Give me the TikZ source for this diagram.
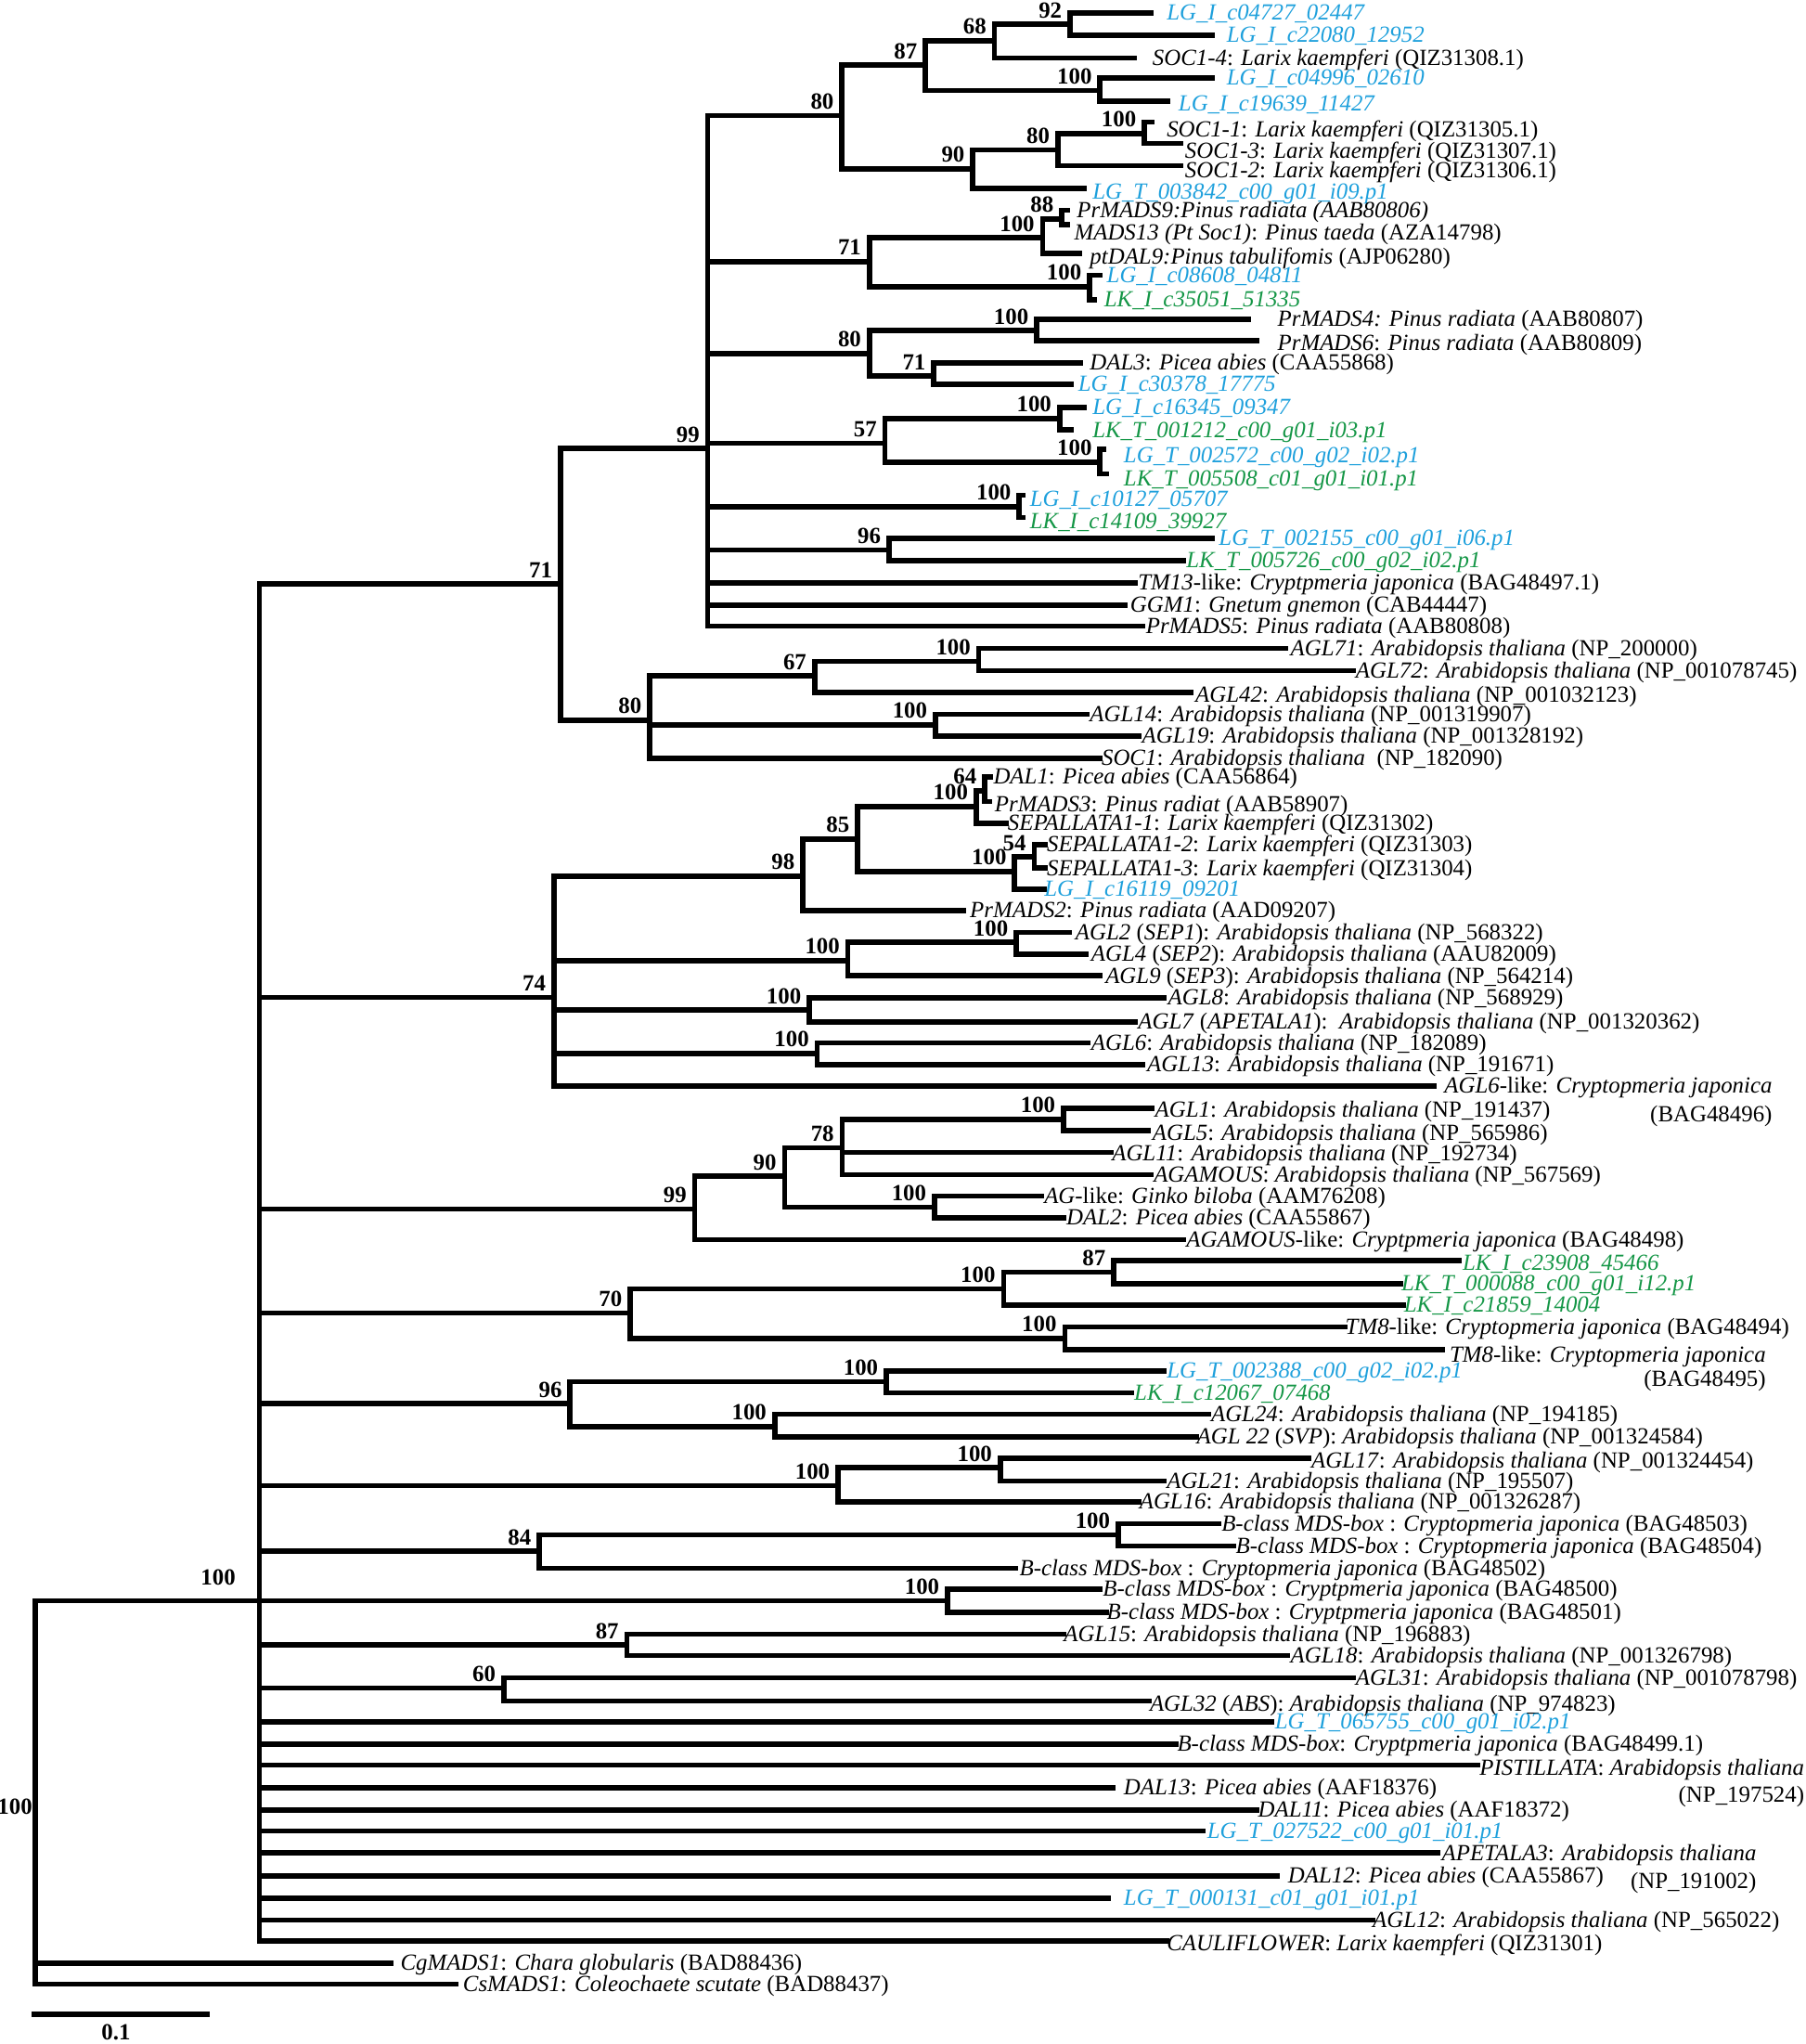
\documentclass[tikz,border=0pt]{standalone}
\usepackage{fontspec}
\setmainfont{Liberation Serif}
\usetikzlibrary{calc}
\definecolor{lgblue}{RGB}{30,160,220}
\definecolor{lkgreen}{RGB}{20,150,70}
\newcommand\fsz{\fontsize{12.4}{14}\selectfont}
\newcommand\Ath{\textit{Arabidopsis thaliana}}
\newcommand\Lk{\textit{Larix kaempferi}}
\newcommand\PiR{\textit{Pinus radiata}}
\newcommand\PiA{\textit{Picea abies}}
\newcommand\Cj{\textit{Cryptopmeria japonica}}
\newcommand\Cp{\textit{Cryptpmeria japonica}}
% internal node: name, parent, x, y, support
\newcommand\IN[5]{%
  \coordinate (#1) at (#3,#4);
  \draw[br] (#2 |- #1) -- (#1);
  \node[bs] (#1l) at ($(#1)+(-6,-5)$) {#5};}
% vertical of a node between two children
\newcommand\VT[3]{\draw[br] (#1 |- #2) -- (#1 |- #3);}
% leaf: name, parent, y, end x, text x, style, text
\newcommand\LF[7]{%
  \coordinate (#1) at (#4,#3);
  \draw[br] (#2 |- #1) -- (#1);
  \node[lf,#6] (#1t) at (#5,#3) {#7};}
\begin{document}
\begin{tikzpicture}[x=0.7pt,y=-0.7pt,
  br/.style={line width=2.8pt, line cap=rect},
  lf/.style={anchor=base west, inner sep=0pt, font=\fsz, yshift=-3.85pt},
  lf2/.style={anchor=base east, inner sep=0pt, font=\fsz},
  bs/.style={anchor=base east, inner sep=0pt, font=\fsz\bfseries},
  bl/.style={text=lgblue, font=\fsz\itshape},
  gr/.style={text=lkgreen, font=\fsz\itshape}]
\useasboundingbox (0,0) rectangle (1385,1568);

% ---------- root ----------
\coordinate (R) at (27,1228);
\coordinate (B) at (199,1228);
\draw[br] (R) -- (B);
\node[bs] (Bl) at (181,1216) {100};
\node[anchor=east, inner sep=0pt, font=\fsz\bfseries] (Rl) at (25,1386) {100};
\LF{lCg}{R}{1506}{300}{307}{}{\textit{CgMADS1}: \textit{Chara globularis} (BAD88436)}
\LF{lCs}{R}{1522}{350}{355}{}{\textit{CsMADS1}: \textit{Coleochaete scutate} (BAD88437)}
\VT{R}{B}{lCs}

% ---------- SOC1 clade ----------
\IN{A71}{B}{430}{448}{71}
\IN{A99}{A71}{543}{344}{99}
\IN{S80}{A99}{646}{88.7}{80}
\IN{S87}{S80}{710}{50}{87}
\IN{S68}{S87}{763}{31.2}{68}
\IN{S92}{S68}{821}{18.7}{92}
\LF{l1}{S92}{10}{883}{895}{bl}{LG\_I\_c04727\_02447}
\LF{l2}{S92}{27}{930}{941}{bl}{LG\_I\_c22080\_12952}
\VT{S92}{l1}{l2}
\LF{l3}{S68}{44.5}{870}{884}{}{\textit{SOC1-4}: \Lk{} (QIZ31308.1)}
\VT{S68}{S92}{l3}
\IN{S100a}{S87}{844}{69.5}{100}
\LF{l4}{S100a}{60}{930}{941}{bl}{LG\_I\_c04996\_02610}
\LF{l5}{S100a}{77.5}{896}{904}{bl,yshift=-1.4pt}{LG\_I\_c19639\_11427}
\VT{S100a}{l4}{l5}
\VT{S87}{S68}{S100a}
\IN{S90}{S80}{746.4}{129.5}{90}
\IN{S80b}{S90}{811.7}{115}{80}
\IN{S100b}{S80b}{878}{102.5}{100}
\LF{l6}{S100b}{93.7}{884}{895}{yshift=-4.2pt}{\textit{SOC1-1}: \Lk{} (QIZ31305.1)}
\LF{l7}{S100b}{110}{906}{909}{yshift=-4.2pt}{\textit{SOC1-3}: \Lk{} (QIZ31307.1)}
\VT{S100b}{l6}{l7}
\LF{l8}{S80b}{127}{906}{909}{yshift=-2.8pt}{\textit{SOC1-2}: \Lk{} (QIZ31306.1)}
\VT{S80b}{S100b}{l8}
\LF{l9}{S90}{144.5}{832}{838}{bl,yshift=-2.1pt}{LG\_T\_003842\_c00\_g01\_i09.p1}
\VT{S90}{S80b}{l9}
\VT{S80}{S87}{S90}

\IN{P71}{A99}{667}{200.7}{71}
\IN{P100}{P71}{800}{182.5}{100}
\IN{P88}{P100}{814.7}{168}{88}
\LF{l10}{P88}{161.2}{819}{826}{}{\textit{PrMADS9:Pinus radiata (AAB80806)}}
\LF{l11}{P88}{172.4}{819}{824}{yshift=-4.2pt}{\textit{MADS13 (Pt Soc1)}: \textit{Pinus taeda} (AZA14798)}
\VT{P88}{l10}{l11}
\LF{l12}{P100}{194.4}{828}{836}{yshift=-2.1pt}{\textit{ptDAL9:Pinus tabulifomis} (AJP06280)}
\VT{P100}{P88}{l12}
\IN{P100b}{P71}{836}{219.9}{100}
\LF{l13}{P100b}{211.2}{844}{849}{bl}{LG\_I\_c08608\_04811}
\LF{l14}{P100b}{229.9}{840}{847}{gr}{LK\_I\_c35051\_51335}
\VT{P100b}{l13}{l14}
\VT{P71}{P100}{P100b}

\IN{Q80}{A99}{667}{271.2}{80}
\IN{Q100}{Q80}{795.4}{253.6}{100}
\LF{l15}{Q100}{244.9}{958}{980}{}{\textit{PrMADS4: Pinus radiata} (AAB80807)}
\LF{l16}{Q100}{261.2}{964}{980}{yshift=-1.4pt}{\textit{PrMADS6}: \PiR{} (AAB80809)}
\VT{Q100}{l15}{l16}
\IN{Q71}{Q80}{716.5}{288.6}{71}
\LF{l17}{Q71}{278.6}{829}{836}{}{\textit{DAL3}: \PiA{} (CAA55868)}
\LF{l18}{Q71}{294.9}{822}{827}{bl}{LG\_I\_c30378\_17775}
\VT{Q71}{l17}{l18}
\VT{Q80}{Q100}{Q71}

\IN{R57}{A99}{679}{340}{57}
\IN{R100a}{R57}{813}{321}{100}
\LF{l19}{R100a}{312.4}{832}{838}{bl}{LG\_I\_c16345\_09347}
\LF{l20}{R100a}{329.9}{822}{838}{gr}{LK\_T\_001212\_c00\_g01\_i03.p1}
\VT{R100a}{l19}{l20}
\IN{R100b}{R57}{844}{354.4}{100}
\LF{l21}{R100b}{344.8}{847}{862}{bl,yshift=-3.15pt}{LG\_T\_002572\_c00\_g02\_i02.p1}
\LF{l22}{R100b}{363.6}{849}{862}{gr,yshift=-2.45pt}{LK\_T\_005508\_c01\_g01\_i01.p1}
\VT{R100b}{l21}{l22}
\VT{R57}{R100a}{R100b}

\IN{T100}{A99}{782}{388.6}{100}
\LF{l23}{T100}{380}{785}{790}{bl,yshift=-2.1pt}{LG\_I\_c10127\_05707}
\LF{l24}{T100}{397}{785}{790}{gr,yshift=-2.1pt}{LK\_I\_c14109\_39927}
\VT{T100}{l23}{l24}

\IN{U96}{A99}{682}{422}{96}
\LF{l25}{U96}{413}{930}{935}{bl}{LG\_T\_002155\_c00\_g01\_i06.p1}
\LF{l26}{U96}{430}{908}{910}{gr}{LK\_T\_005726\_c00\_g02\_i02.p1}
\VT{U96}{l25}{l26}
\LF{l27}{A99}{447}{871}{873}{}{\textit{TM13}-like: \Cp{} (BAG48497.1)}
\LF{l28}{A99}{464.4}{863}{867}{}{\textit{GGM1}: \textit{Gnetum gnemon} (CAB44447)}
\LF{l29}{A99}{480.4}{877}{879}{}{\textit{PrMADS5}: \PiR{} (AAB80808)}
\VT{A99}{S80}{l29}

\IN{A80}{A71}{498.5}{552.4}{80}
\IN{B67}{A80}{625}{518.6}{67}
\IN{B100}{B67}{751}{507.4}{100}
\LF{l30}{B100}{497.4}{986.5}{990}{}{\textit{AGL71}: \Ath{} (NP\_200000)}
\LF{l31}{B100}{514.4}{1038}{1040}{}{\textit{AGL72}: \Ath{} (NP\_001078745)}
\VT{B100}{l30}{l31}
\LF{l32}{B67}{531}{914}{917}{yshift=-1.4pt}{\textit{AGL42}: \Ath{} (NP\_001032123)}
\VT{B67}{B100}{l32}
\IN{C100}{A80}{717.7}{556}{100}
\LF{l33}{C100}{547.9}{834}{836}{}{\textit{AGL14}: \Ath{} (NP\_001319907)}
\LF{l34}{C100}{564.8}{874}{876}{}{\textit{AGL19}: \Ath{} (NP\_001328192)}
\VT{C100}{l33}{l34}
\LF{l35}{A80}{581.6}{844}{845}{}{\textit{SOC1}: \Ath{}\ \ (NP\_182090)}
\VT{A80}{B67}{l35}
\VT{A71}{A99}{A80}

% ---------- SEP / AGL6 clade ----------
\IN{E74}{B}{425}{765}{74}
\IN{E98}{E74}{616}{672}{98}
\IN{E85}{E98}{658}{643.6}{85}
\IN{E100a}{E85}{749}{618.6}{100}
\IN{E64}{E100a}{755.6}{606.7}{64}
\LF{l36}{E64}{596}{760}{762}{}{\textit{DAL1}: \PiA{} (CAA56864)}
\LF{l37}{E64}{614.9}{759}{763}{yshift=-1.4pt}{\textit{PrMADS3}: \textit{Pinus radiat} (AAB58907)}
\VT{E64}{l36}{l37}
\LF{l38}{E100a}{631.8}{772}{773}{}{\textit{SEPALLATA1-1}: \Lk{} (QIZ31302)}
\VT{E100a}{E64}{l38}
\IN{E100b}{E85}{778.5}{668.6}{100}
\IN{E54}{E100b}{793.5}{657.3}{54}
\LF{l39}{E54}{647.9}{802}{803}{}{\textit{SEPALLATA1-2}: \Lk{} (QIZ31303)}
\LF{l40}{E54}{666}{802}{803}{}{\textit{SEPALLATA1-3}: \Lk{} (QIZ31304)}
\VT{E54}{l39}{l40}
\LF{l41}{E100b}{682.3}{801}{801}{bl}{LG\_I\_c16119\_09201}
\VT{E100b}{E54}{l41}
\VT{E85}{E100a}{E100b}
\LF{l42}{E98}{698.6}{739}{744}{}{\textit{PrMADS2}: \PiR{} (AAD09207)}
\VT{E98}{E85}{l42}

\IN{F100}{E74}{650.6}{736.8}{100}
\IN{F100b}{F100}{779.8}{722.9}{100}
\LF{l43}{F100b}{715.3}{820.5}{825}{}{\textit{AGL2} (\textit{SEP1}): \Ath{} (NP\_568322)}
\LF{l44}{F100b}{731.8}{833}{837}{}{\textit{AGL4} (\textit{SEP2}): \Ath{} (AAU82009)}
\VT{F100b}{l43}{l44}
\LF{l45}{F100}{748.6}{844}{848}{}{\textit{AGL9} (\textit{SEP3}): \Ath{} (NP\_564214)}
\VT{F100}{F100b}{l45}

\IN{G100}{E74}{621}{774.8}{100}
\LF{l46}{G100}{765.3}{893}{896}{}{\textit{AGL8}: \Ath{} (NP\_568929)}
\LF{l47}{G100}{784}{871}{873}{}{\textit{AGL7} (\textit{APETALA1}):\ \ \Ath{} (NP\_001320362)}
\VT{G100}{l46}{l47}

\IN{H100}{E74}{627}{808}{100}
\LF{l48}{H100}{800}{835}{837}{}{\textit{AGL6}: \Ath{} (NP\_182089)}
\LF{l49}{H100}{816.7}{877}{880}{}{\textit{AGL13}: \Ath{} (NP\_191671)}
\VT{H100}{l48}{l49}
\LF{l50}{E74}{833}{1100}{1108}{}{\textit{AGL6}-like: \Cj}
\node[lf2] (l50b) at ($(l50t.base east)+(0,22)$) {(BAG48496)};
\VT{E74}{E98}{l50}

% ---------- AG clade ----------
\IN{I99}{B}{533}{927.4}{99}
\IN{I90}{I99}{602}{902.4}{90}
\IN{I78}{I90}{646.2}{880.4}{78}
\IN{I100}{I78}{816}{858.6}{100}
\LF{l51}{I100}{850.4}{884}{886}{yshift=-0.7pt}{\textit{AGL1}: \Ath{} (NP\_191437)}
\LF{l52}{I100}{867.4}{881}{884}{yshift=-1.4pt}{\textit{AGL5}: \Ath{} (NP\_565986)}
\VT{I100}{l51}{l52}
\LF{l53}{I78}{884}{852.6}{853}{yshift=-0.7pt}{\textit{AGL11}: \Ath{} (NP\_192734)}
\LF{l54}{I78}{901.1}{883}{885}{}{\textit{AGAMOUS}: \Ath{} (NP\_567569)}
\VT{I78}{I100}{l54}
\IN{I100b}{I90}{717}{926}{100}
\LF{l55}{I100b}{917.4}{799}{801}{}{\textit{AG}-like: \textit{Ginko biloba} (AAM76208)}
\LF{l56}{I100b}{934.3}{816}{818}{}{\textit{DAL2}: \PiA{} (CAA55867)}
\VT{I100b}{l55}{l56}
\VT{I90}{I78}{I100b}
\LF{l57}{I99}{951}{908}{910}{}{\textit{AGAMOUS}-like: \Cp{} (BAG48498)}
\VT{I99}{I90}{l57}

% ---------- TM8 clade ----------
\IN{J70}{B}{483.6}{1007.3}{70}
\IN{J100}{J70}{770}{988.6}{100}
\IN{J87}{J100}{854.6}{976}{87}
\LF{l58}{J87}{967.2}{1119.5}{1122}{gr,yshift=-1.4pt}{LK\_I\_c23908\_45466}
\LF{l59}{J87}{984.8}{1075}{1075}{gr}{LK\_T\_000088\_c00\_g01\_i12.p1}
\VT{J87}{l58}{l59}
\LF{l60}{J100}{1001}{1076.6}{1077}{gr}{LK\_I\_c21859\_14004}
\VT{J100}{J87}{l60}
\IN{J100b}{J70}{817}{1026.8}{100}
\LF{l61}{J100b}{1017.9}{1032}{1032}{}{\textit{TM8}-like: \Cj{} (BAG48494)}
\LF{l62}{J100b}{1035.3}{1107}{1112}{yshift=-2.8pt}{\textit{TM8}-like: \Cj}
\node[lf2] (l62b) at ($(l62t.base east)+(0,19)$) {(BAG48495)};
\VT{J100b}{l61}{l62}
\VT{J70}{J100}{J100b}

% ---------- SVP / AGL17 clades ----------
\IN{K96}{B}{437.4}{1076.8}{96}
\IN{K100a}{K96}{680}{1059.8}{100}
\LF{l63}{K100a}{1051.8}{893}{895}{bl}{LG\_T\_002388\_c00\_g02\_i02.p1}
\LF{l64}{K100a}{1068.5}{868}{870}{gr}{LK\_I\_c12067\_07468}
\VT{K100a}{l63}{l64}
\IN{K100b}{K96}{594.4}{1094.3}{100}
\LF{l65}{K100b}{1084.8}{927}{929}{}{\textit{AGL24}: \Ath{} (NP\_194185)}
\LF{l66}{K100b}{1102.3}{918}{918}{}{\textit{AGL 22} (\textit{SVP}): \Ath{} (NP\_001324584)}
\VT{K100b}{l65}{l66}
\VT{K96}{K100a}{K100b}

\IN{L100}{B}{643}{1139.6}{100}
\IN{L100b}{L100}{767.4}{1126}{100}
\LF{l67}{L100b}{1118.5}{1004}{1006}{yshift=-1.4pt}{\textit{AGL17}: \Ath{} (NP\_001324454)}
\LF{l68}{L100b}{1136}{893}{895}{}{\textit{AGL21}: \Ath{} (NP\_195507)}
\VT{L100b}{l67}{l68}
\LF{l69}{L100}{1152.3}{874}{874}{}{\textit{AGL16}: \Ath{} (NP\_001326287)}
\VT{L100}{L100b}{l69}

% ---------- B-class ----------
\IN{M84}{B}{413.8}{1190}{84}
\IN{M100}{M84}{858}{1177.5}{100}
\LF{l70}{M100}{1169}{935}{937}{}{\textit{B-class MDS-box} : \Cj{} (BAG48503)}
\LF{l71}{M100}{1186}{946.5}{948}{}{\textit{B-class MDS-box} : \Cj{} (BAG48504)}
\VT{M100}{l70}{l71}
\LF{l72}{M84}{1203}{779}{782}{}{\textit{B-class MDS-box} : \Cj{} (BAG48502)}
\VT{M84}{M100}{l72}

\IN{N100}{B}{727}{1228}{100}
\LF{l73}{N100}{1219}{844}{846}{}{\textit{B-class MDS-box} : \Cp{} (BAG48500)}
\LF{l74}{N100}{1237}{849}{849}{}{\textit{B-class MDS-box} : \Cp{} (BAG48501)}
\VT{N100}{l73}{l74}

\IN{O87}{B}{481}{1262}{87}
\LF{l75}{O87}{1253.6}{816}{816}{}{\textit{AGL15}: \Ath{} (NP\_196883)}
\LF{l76}{O87}{1270}{988}{990}{}{\textit{AGL18}: \Ath{} (NP\_001326798)}
\VT{O87}{l75}{l76}

\IN{P60}{B}{386.6}{1295}{60}
\LF{l77}{P60}{1287}{1038}{1040}{}{\textit{AGL31}: \Ath{} (NP\_001078798)}
\LF{l78}{P60}{1305}{882}{882}{yshift=-1.4pt}{\textit{AGL32} (\textit{ABS}): \Ath{} (NP\_974823)}
\VT{P60}{l77}{l78}

\LF{l79}{B}{1321}{976}{978}{bl}{LG\_T\_065755\_c00\_g01\_i02.p1}
\LF{l80}{B}{1338}{902}{903}{}{\textit{B-class MDS-box}: \Cp{} (BAG48499.1)}
\LF{l81}{B}{1354}{1134}{1135}{yshift=-1.4pt}{\textit{PISTILLATA}: \Ath}
\node[lf2] (l81b) at ($(l81t.base east)+(0,21)$) {(NP\_197524)};
\LF{l82}{B}{1371.5}{854}{862}{}{\textit{DAL13}: \PiA{} (AAF18376)}
\LF{l83}{B}{1388.5}{964}{965}{}{\textit{DAL11}: \PiA{} (AAF18372)}
\LF{l84}{B}{1404.6}{923}{926}{bl}{LG\_T\_027522\_c00\_g01\_i01.p1}
\LF{l85}{B}{1421.5}{1103}{1106}{}{\textit{APETALA3}: \Ath}
\node[lf2] (l85b) at ($(l85t.base east)+(0,22)$) {(NP\_191002)};
\LF{l86}{B}{1439}{980}{988}{}{\textit{DAL12}: \PiA{} (CAA55867)}
\LF{l87}{B}{1456}{850}{862}{bl}{LG\_T\_000131\_c01\_g01\_i01.p1}
\LF{l88}{B}{1473}{1053}{1053}{}{\textit{AGL12}: \Ath{} (NP\_565022)}
\LF{l89}{B}{1489}{895}{895}{yshift=-1.4pt}{\textit{CAULIFLOWER}: \Lk{} (QIZ31301)}
\VT{B}{A71}{l89}

% ---------- scale bar ----------
\coordinate (sb1) at (26,1545);
\coordinate (sb2) at (159,1545);
\draw[br] (sb1) -- (sb2);
\node[font=\fsz\bfseries, inner sep=0pt] (sbl) at (89,1559) {0.1};
\end{tikzpicture}
\end{document}
